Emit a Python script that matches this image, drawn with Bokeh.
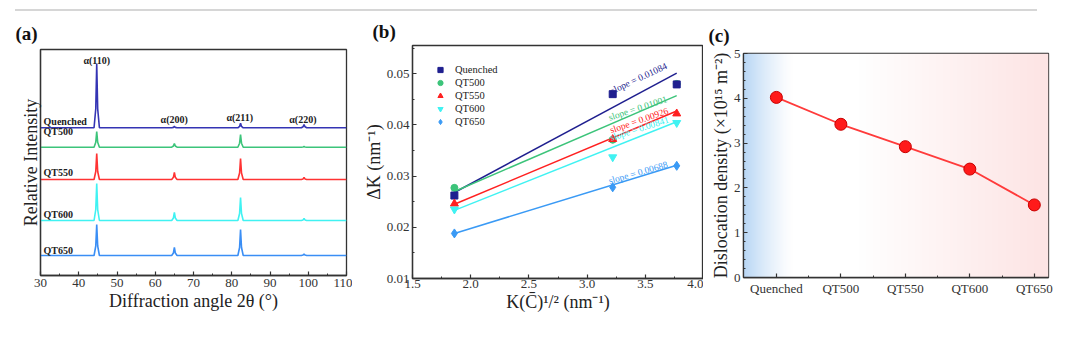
import numpy as np
from bokeh.plotting import figure
from bokeh.layouts import row, column
from bokeh.models import (Div, FixedTicker, SingleIntervalTicker, Range1d, Legend, LegendItem,
                          PrintfTickFormatter)
from bokeh.core.properties import value
from bokeh.embed import file_html
from bokeh.resources import INLINE

FONT = "'Liberation Serif', serif"

# ---------------- data ----------------
samples = ["Quenched", "QT500", "QT550", "QT600", "QT650"]

# (a) XRD patterns (intensity above each pattern's baseline, arbitrary units)
two_theta = [30.0, 44.0, 44.45, 44.7, 44.95, 45.4, 64.3, 64.75, 65.0, 65.25, 65.7,
             81.6, 82.05, 82.3, 82.55, 83.0, 98.2, 98.65, 98.9, 99.15, 99.6, 110.0]
xrd_quenched = [0, 0, 19, 64, 19, 0, 0, 0.4, 1.5, 0.4, 0, 0, 1.4, 4.6, 1.4, 0, 0, 1.0, 3.3, 1.0, 0, 0]
xrd_qt500 = [0, 0, 5, 15.7, 5, 0, 0, 1.2, 3.7, 1.2, 0, 0, 4, 12.7, 4, 0, 0, 0.2, 0.6, 0.2, 0, 0]
xrd_qt550 = [0, 0, 8, 26, 8, 0, 0, 2.2, 7, 2.2, 0, 0, 6.5, 21, 6.5, 0, 0, 0.6, 2, 0.6, 0, 0]
xrd_qt600 = [0, 0, 11, 37, 11, 0, 0, 2.5, 8, 2.5, 0, 0, 7, 23, 7, 0, 0, 0.6, 2, 0.6, 0, 0]
xrd_qt650 = [0, 0, 9.5, 31, 9.5, 0, 0, 2.5, 8, 2.5, 0, 0, 8, 26, 8, 0, 0, 0.5, 1.5, 0.5, 0, 0]
peak_names = ["α(110)", "α(200)", "α(211)", "α(220)"]
peak_pos = [44.7, 64.95, 82.1, 98.6]

# (b)
k_c = [1.86, 3.22, 3.77]
dk_quenched = [0.0262, 0.0460, 0.0479]
dk_qt500 = [0.0277, 0.0371, 0.0480]
dk_qt550 = [0.0246, 0.0372, 0.0422]
dk_qt600 = [0.0235, 0.0337, 0.0404]
dk_qt650 = [0.0188, 0.0278, 0.0320]
fit_x = [1.86, 3.77]
fit_quenched = [0.0268, 0.0501]
fit_qt500 = [0.0270, 0.0457]
fit_qt550 = [0.0245, 0.0427]
fit_qt600 = [0.0233, 0.0406]
fit_qt650 = [0.0188, 0.0321]
slope_text = ["slope = 0.01084", "slope = 0.01001", "slope = 0.00926", "slope = 0.00841", "slope = 0.00688"]

# (c)
density = [4.02, 3.42, 2.92, 2.42, 1.62]

# ---------------- styles ----------------
colors_a = ["#3434b4", "#3cc47a", "#ff3333", "#40f2f2", "#3a8ef5"]
colors_b = ["#1f1f8f", "#3cc47a", "#ff2020", "#40f2f2", "#3a9af5"]
markers = ["square", "circle", "triangle", "inverted_triangle", "diamond"]
msizes = [7, 7, 8, 8, 9]
offsets_a = [147.7, 128.3, 96, 55, 20]


def style(p, title, toff, tstand):
    p.xgrid.visible = False
    p.ygrid.visible = False
    p.outline_line_color = "#333333"
    p.outline_line_width = 1.3
    p.background_fill_color = "white"
    p.border_fill_color = "white"
    p.title.text = title
    p.title.text_font = FONT
    p.title.text_font_size = "19px"
    p.title.text_font_style = "bold"
    p.title.align = "left"
    p.title.offset = toff
    p.title.standoff = tstand
    p.title.text_color = "#111111"
    for ax in (p.xaxis[0], p.yaxis[0]):
        ax.axis_line_color = "#333333"
        ax.axis_line_width = 1.3
        ax.major_tick_line_color = "#333333"
        ax.minor_tick_line_color = "#333333"
        ax.major_tick_line_width = 1.2
        ax.major_tick_in = 4
        ax.major_tick_out = 0
        ax.minor_tick_in = 2
        ax.minor_tick_out = 0
        ax.major_label_text_font = FONT
        ax.major_label_text_font_size = "13px"
        ax.major_label_text_color = "#333333"
        ax.major_label_standoff = 3
        ax.axis_label_text_font = FONT
        ax.axis_label_text_font_size = "18px"
        ax.axis_label_text_font_style = "normal"
        ax.axis_label_text_color = "#222222"
        ax.axis_label_standoff = 1


# ---------------- (a) ----------------
p1 = figure(frame_width=306, frame_height=226, output_backend="svg", toolbar_location=None,
            x_range=Range1d(30, 110), y_range=Range1d(0, 226),
            min_border_left=40, min_border_right=6, min_border_top=38, min_border_bottom=56)
style(p1, "(a)", -25, 11)
p1.xaxis.ticker = SingleIntervalTicker(interval=10, num_minor_ticks=2)
p1.yaxis.ticker = FixedTicker(ticks=[])
p1.xaxis.axis_label = "Diffraction angle 2θ (°)"
p1.yaxis.axis_label = "Relative Intensity"
p1.yaxis.axis_label_standoff = 0
series_a = [xrd_quenched, xrd_qt500, xrd_qt550, xrd_qt600, xrd_qt650]
for ser, off, col in zip(series_a, offsets_a, colors_a):
    p1.line(two_theta, [v + off for v in ser], line_color=col, line_width=1.6)
p1.text(x=[30.8] * 5, y=[154, 144, 103.3, 61, 25], text=samples,
        text_font=value(FONT), text_font_style="bold", text_font_size="10px",
        text_baseline="middle", text_align="left", text_color="#222222")
p1.text(x=peak_pos, y=[215, 156, 158, 156], text=peak_names,
        text_font=value(FONT), text_font_style="bold", text_font_size="10px",
        text_baseline="middle", text_align="center", text_color="#222222")

# ---------------- (b) ----------------
p2 = figure(frame_width=291, frame_height=233, output_backend="svg", toolbar_location=None,
            x_range=Range1d(1.5, 4.0), y_range=Range1d(0.01, 0.0555),
            min_border_left=60, min_border_right=0, min_border_top=34, min_border_bottom=53)
style(p2, "(b)", -40, 7)
p2.xaxis.ticker = SingleIntervalTicker(interval=0.5, num_minor_ticks=2)
p2.yaxis.ticker = SingleIntervalTicker(interval=0.01, num_minor_ticks=2)
p2.xaxis.formatter = PrintfTickFormatter(format="%.1f")
p2.yaxis.formatter = PrintfTickFormatter(format="%.2f")
p2.xaxis.axis_label = "K(C̄)¹/² (nm⁻¹)"
p2.yaxis.axis_label = "ΔK (nm⁻¹)"
p2.xaxis.major_label_standoff = 1
p2.yaxis.axis_label_standoff = 0
dks = [dk_quenched, dk_qt500, dk_qt550, dk_qt600, dk_qt650]
fits = [fit_quenched, fit_qt500, fit_qt550, fit_qt600, fit_qt650]
for i in range(5):
    p2.line(fit_x, fits[i], line_color=colors_b[i], line_width=1.5)
rends = {}
for i in [1, 0, 2, 3, 4]:
    rends[i] = p2.scatter(k_c, dks[i], marker=markers[i], size=msizes[i],
                          fill_color=colors_b[i], line_color=colors_b[i])
items = [LegendItem(label=samples[i], renderers=[rends[i]]) for i in range(5)]
angles_deg = [25, 18, 19, 17.5, 16]
sl_x = [3.207, 3.187, 3.20, 3.20, 3.187]
sl_y = [0.04655, 0.04136, 0.0389, 0.03745, 0.0290]
for i in range(5):
    p2.text(x=[sl_x[i]], y=[sl_y[i]], text=[slope_text[i]], angle=np.deg2rad(angles_deg[i]),
            text_font=value(FONT), text_font_size="9.5px", text_baseline="middle",
            text_align="left", text_color=colors_b[i])
leg = Legend(items=items, location=(18, 150), border_line_color=None,
             background_fill_alpha=0, padding=5, spacing=0, margin=0,
             glyph_height=13, glyph_width=20, label_height=13, label_standoff=5,
             label_text_font=FONT, label_text_font_size="10.5px", label_text_color="#222222")
p2.add_layout(leg)

# ---------------- (c) ----------------
p3 = figure(frame_width=305, frame_height=224, output_backend="svg", toolbar_location=None,
            x_range=Range1d(-0.51, 4.22), y_range=Range1d(0, 5),
            min_border_left=40, min_border_right=24, min_border_top=42, min_border_bottom=54)
style(p3, "(c)", -35, 15)
p3.xaxis.ticker = FixedTicker(ticks=[0, 1, 2, 3, 4], minor_ticks=[0.5, 1.5, 2.5, 3.5])
p3.xaxis.major_label_overrides = {i: s for i, s in enumerate(samples)}
p3.yaxis.ticker = SingleIntervalTicker(interval=1, num_minor_ticks=5)
p3.yaxis.axis_label = "Dislocation density (×10¹⁵ m⁻²)"
p3.yaxis.major_label_standoff = 3
p3.yaxis.axis_label_standoff = 0

n = 400
t = np.linspace(0, 1, n)
blue = np.clip(1 - t / 0.16, 0, 1) ** 1.3
pink = np.clip((t - 0.38) / 0.62, 0, 1)
rr = 255 - blue * (255 - 185) - pink * (255 - 253)
gg = 255 - blue * (255 - 215) - pink * (255 - 228)
bb = 255 - blue * (255 - 245) - pink * (255 - 228)
img = np.empty((1, n), dtype=np.uint32)
view = img.view(dtype=np.uint8).reshape((1, n, 4))
view[..., 0] = rr.astype(np.uint8)
view[..., 1] = gg.astype(np.uint8)
view[..., 2] = bb.astype(np.uint8)
view[..., 3] = 255
p3.image_rgba(image=[img], x=-0.51, y=0, dw=4.73, dh=5)

xc = list(range(len(samples)))
p3.line(xc, density, line_color="#ff3b3b", line_width=1.8)
p3.scatter(xc, density, marker="circle", size=12, fill_color="#ff1a1a", line_color="#c80000", line_width=1)

# ---------------- layout ----------------
rule = Div(text="", width=1022, height=2, margin=(9, 0, 0, 15),
           styles={"background-color": "#d6d6d6"})
layout = column(rule, row(column(p1), column(p2), column(p3), spacing=0), spacing=0)

open("out.html", "w").write(file_html(layout, INLINE))
